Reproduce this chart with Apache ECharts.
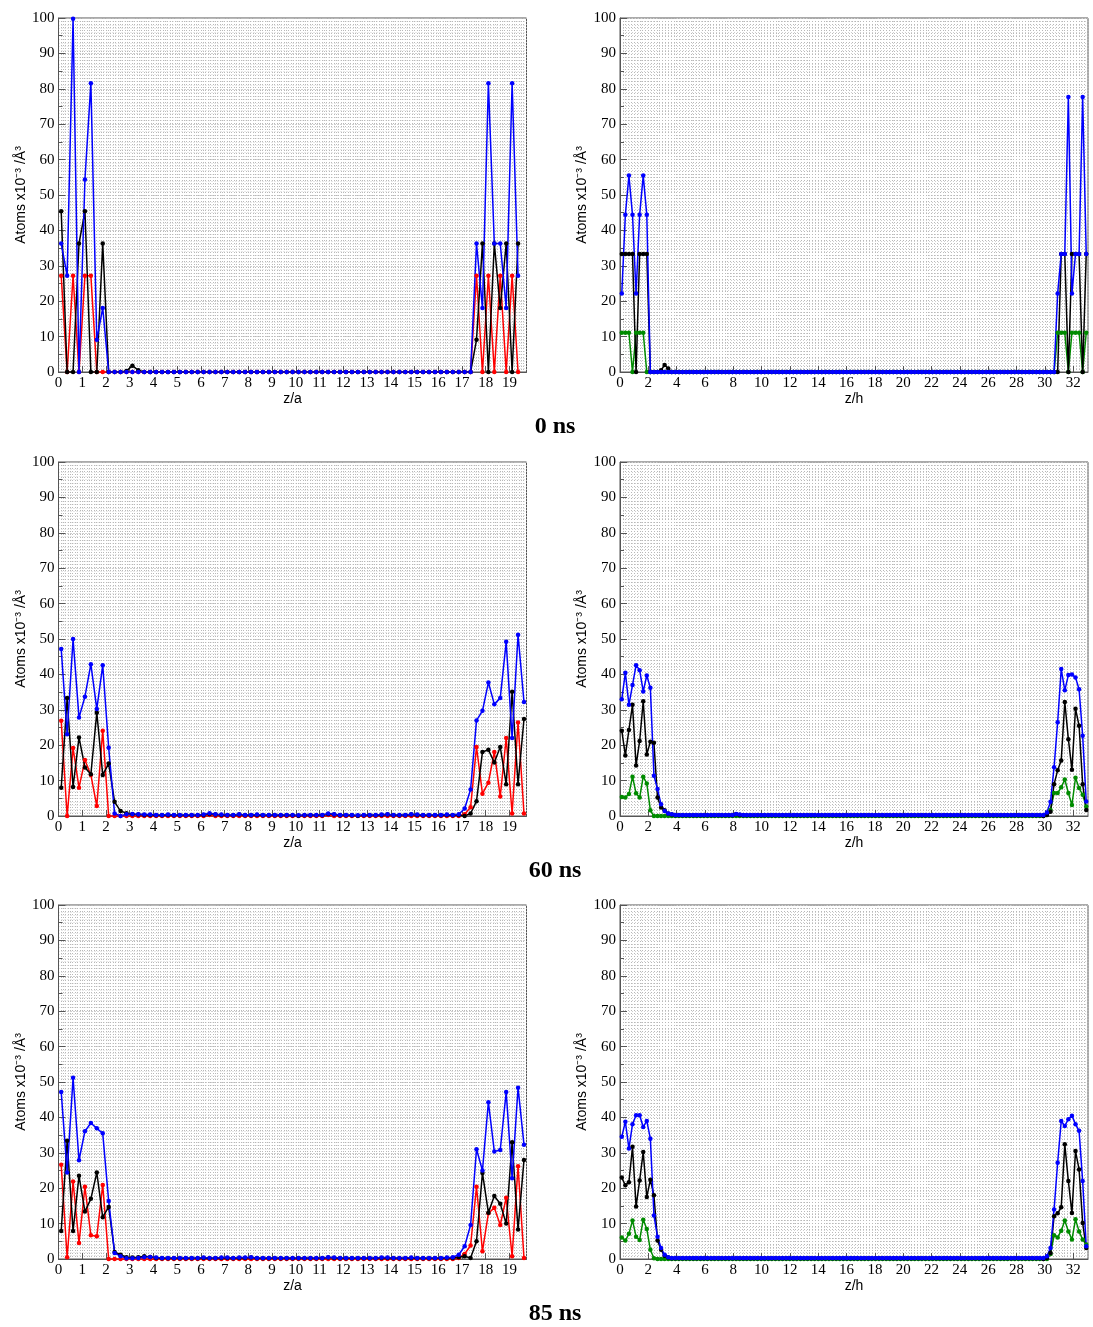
<!DOCTYPE html>
<html><head><meta charset="utf-8">
<script src="https://cdn.jsdelivr.net/npm/echarts@6/dist/echarts.min.js"></script>
<style>html,body{margin:0;padding:0;background:#fff}#c{width:1093px;height:1327px}</style>
</head><body><div id="c"></div><script>
// ---- bin grids (x positions of the profile bins) ----
const leftStart = 0.114, leftStep = 0.25;      // z/a bins
const rightStart = 0.126, rightStep = 0.2523;  // z/h bins
const leftMax = 19.72, rightMax = 33.05;
const panelTitles = ['0 ns', '60 ns', '85 ns'];
const leftXName = 'z/a', rightXName = 'z/h';
const yName = 'Atoms x10⁻³ /Å³';

// ---- 0 ns, left (z/a) ----
const t0L_blue = [36.3,27.2,99.8,0,54.4,81.6,9.1,18.1,0,
 0,0,0,0,0,0,0,0,0,0, 0,0,0,0,0,0,0,0,0,0, 0,0,0,0,0,0,0,0,0,0,
 0,0,0,0,0,0,0,0,0,0, 0,0,0,0,0,0,0,0,0,0, 0,0,0,0,0,0,0,0,0,0,
 0,36.3,18.1,81.6,36.3,36.3,18.1,81.6,27.2];
const t0L_black = [45.4,0,0,36.3,45.4,0,0,36.3,0,
 0,0,0.3,1.8,0.5,0,0,0,0,0, 0,0,0,0,0,0,0,0,0,0, 0,0,0,0,0,0,0,0,0,0,
 0,0,0,0,0,0,0,0,0,0, 0,0,0,0,0,0,0,0,0,0, 0,0,0,0,0,0,0,0,0,0,
 0,9.1,36.3,0,36.3,18.1,36.3,0,36.3];
const t0L_red = [27.2,0,27.2,0,27.2,27.2,0,0,0,
 0,0,0,0,0,0,0,0,0,0, 0,0,0,0,0,0,0,0,0,0, 0,0,0,0,0,0,0,0,0,0,
 0,0,0,0,0,0,0,0,0,0, 0,0,0,0,0,0,0,0,0,0, 0,0,0,0,0,0,0,0,0,0,
 0,27.2,0,27.2,0,27.2,0,27.2,0];

// ---- 60 ns, left ----
const t60L_blue = [47.2,23.1,50.0,27.8,33.7,42.9,30.2,42.6,19.3,0.7,0,
 0.5,0.6,0.5,0.4,0.4,0.3,0.3,0.4,0.3,0.3, 0.3,0.3,0.3,0.4,0.8,0.5,0.4,0.3,0.3,0.5,
 0.3,0.3,0.4,0.3,0.3,0.3,0.3,0.3,0.3,0.2, 0.3,0.3,0.3,0.3,0.7,0.5,0.3,0.3,0.3,0.2,
 0.3,0.3,0.3,0.4,0.5,0.3,0.3,0.3,0.5,0.4, 0.3,0.3,0.3,0.3,0.4,0.3,0.5,
 2.1,7.5,27.0,29.7,37.7,31.6,33.3,49.2,22.0,51.2,32.2];
const t60L_black = [8.0,33.3,8.2,22.2,13.7,11.8,29.2,11.6,14.8,4.0,1.4,
 0.8,0.5,0.4,0.3,0.3,0.2,0.2,0.3,0.2,0.2, 0.2,0.2,0.2,0.3,0.6,0.4,0.3,0.2,0.2,0.4,
 0.2,0.2,0.3,0.2,0.2,0.2,0.2,0.2,0.2,0.1, 0.2,0.2,0.2,0.2,0.6,0.4,0.2,0.2,0.2,0.1,
 0.2,0.2,0.2,0.3,0.4,0.2,0.2,0.2,0.4,0.3, 0.2,0.2,0.2,0.2,0.3,0.2,0.3,
 0,0.7,4.2,18.1,18.7,15.1,19.5,9.0,35.1,9.0,27.4];
const t60L_red = [26.9,0,19.2,8.0,15.8,11.6,2.8,24.1,0,0,0,
 0,0,0,0,0,0,0,0,0,0, 0,0,0,0,0.3,0,0,0,0,0,
 0,0,0,0,0,0,0,0,0,0, 0,0,0,0,0.3,0,0,0,0,0,
 0,0,0,0,0,0,0,0,0,0, 0,0,0,0,0,0,0,
 0.5,2.5,19.5,6.3,9.4,18.1,5.5,22.0,0.7,26.4,0.7];

// ---- 85 ns, left ----
const t85L_blue = [47.2,24.4,51.2,27.9,36.1,38.4,36.9,35.5,16.4,1.7,0.8,
 0.2,0.2,0.3,0.5,0.6,0.4,0.3,0.3,0.3,0.3, 0.3,0.3,0.3,0.4,0.3,0.3,0.4,0.4,0.3,0.4,
 0.4,0.5,0.3,0.3,0.3,0.3,0.3,0.3,0.3,0.3, 0.3,0.3,0.3,0.3,0.5,0.4,0.3,0.3,0.3,0.3,
 0.3,0.3,0.3,0.4,0.4,0.3,0.3,0.3,0.4,0.3, 0.3,0.3,0.3,0.3,0.4,0.5,1.2,
 3.6,9.6,31.0,25.0,44.3,30.4,30.8,47.2,22.8,48.4,32.3];
const t85L_black = [7.9,33.4,7.9,23.5,13.4,17.0,24.4,11.8,14.7,2.0,1.2,
 0.5,0.4,0.5,0.8,0.6,0.3,0.2,0.2,0.2,0.2, 0.2,0.2,0.2,0.3,0.2,0.2,0.3,0.3,0.2,0.3,
 0.3,0.4,0.2,0.2,0.2,0.2,0.2,0.2,0.2,0.2, 0.2,0.2,0.2,0.2,0.4,0.3,0.2,0.2,0.2,0.2,
 0.2,0.2,0.2,0.3,0.3,0.2,0.2,0.2,0.3,0.2, 0.2,0.2,0.2,0.2,0.3,0.3,0.5,
 0.8,0.3,5.0,24.3,13.1,17.8,15.6,10.0,33.0,8.3,28.0];
const t85L_red = [26.6,0.5,21.9,4.5,20.4,6.7,6.4,20.9,0,0,0,
 0,0,0,0,0,0,0,0,0,0, 0,0,0,0,0,0,0,0,0,0,
 0,0,0,0,0,0,0,0,0,0, 0,0,0,0,0,0,0,0,0,0,
 0,0,0,0,0,0,0,0,0,0, 0,0,0,0,0,0,0.3,
 1.4,3.8,20.4,2.2,12.9,14.5,9.6,17.3,0.8,26.2,0.3];

// ---- 0 ns, right (z/h) ----
const t0R_blue = [22.2,44.4,55.5,44.4,22.2,44.4,55.5,44.4,0,0,0,0,0,0,0,
 0,0,0,0,0,0,0,0,0,0, 0,0,0,0,0,0,0,0,0,0, 0,0,0,0,0,0,0,0,0,0, 0,0,0,0,0,0,0,0,0,0,
 0,0,0,0,0,0,0,0,0,0, 0,0,0,0,0,0,0,0,0,0, 0,0,0,0,0,0,0,0,0,0, 0,0,0,0,0,0,0,0,0,0,
 0,0,0,0,0,0,0,0,0,0, 0,0,0,0,0,0,0,0,0,0, 0,0,0,
 0,0,0,0,22.2,33.3,33.3,77.7,22.2,33.3,33.3,77.7,33.3];
const t0R_black = [33.3,33.3,33.3,33.3,0,33.3,33.3,33.3,0,0,0,0.5,2.0,1.0,0,
 0,0,0,0,0,0,0,0,0,0, 0,0,0,0,0,0,0,0,0,0, 0,0,0,0,0,0,0,0,0,0, 0,0,0,0,0,0,0,0,0,0,
 0,0,0,0,0,0,0,0,0,0, 0,0,0,0,0,0,0,0,0,0, 0,0,0,0,0,0,0,0,0,0, 0,0,0,0,0,0,0,0,0,0,
 0,0,0,0,0,0,0,0,0,0, 0,0,0,0,0,0,0,0,0,0, 0,0,0,
 0,0,0,0,0,33.3,33.3,0,33.3,33.3,33.3,0,33.3];
const t0R_green = [11.1,11.1,11.1,0,11.1,11.1,11.1,0,0,0,0,0,0,0,0,
 0,0,0,0,0,0,0,0,0,0, 0,0,0,0,0,0,0,0,0,0, 0,0,0,0,0,0,0,0,0,0, 0,0,0,0,0,0,0,0,0,0,
 0,0,0,0,0,0,0,0,0,0, 0,0,0,0,0,0,0,0,0,0, 0,0,0,0,0,0,0,0,0,0, 0,0,0,0,0,0,0,0,0,0,
 0,0,0,0,0,0,0,0,0,0, 0,0,0,0,0,0,0,0,0,0, 0,0,0,
 0,0,0,0,11.1,11.1,11.1,0,11.1,11.1,11.1,0,11.1];

// ---- 60 ns, right ----
const t60R_blue = [33.0,40.5,31.4,37.0,42.6,41.2,35.2,39.7,36.2,11.4,7.6,3.3,1.4,0.7,0.5,
 0.3,0.3,0.3,0.3,0.3,0.3,0.3,0.3,0.3,0.3, 0.3,0.3,0.3,0.3,0.3,0.3,0.3,0.6,0.4,0.3, 0.3,0.3,0.3,0.3,0.3,0.3,0.3,0.3,0.3,0.3, 0.3,0.3,0.3,0.3,0.3,0.3,0.3,0.3,0.3,0.3,
 0.3,0.3,0.3,0.3,0.3,0.3,0.3,0.3,0.3,0.3, 0.3,0.3,0.3,0.3,0.3,0.3,0.3,0.3,0.3,0.3, 0.3,0.3,0.3,0.3,0.3,0.3,0.3,0.3,0.3,0.3, 0.3,0.3,0.3,0.3,0.3,0.3,0.3,0.3,0.3,0.3,
 0.3,0.3,0.3,0.3,0.3,0.3,0.3,0.3,0.3,0.3, 0.3,0.3,0.3,0.3,0.3,0.3,0.3,0.3,0.3,0.3, 0.3,0.3,0.3,
 0.3,1.0,4.0,13.8,26.5,41.5,35.5,39.8,40.0,39.1,35.8,22.7,4.1];
const t60R_black = [24.1,17.1,24.3,31.4,14.3,21.2,32.4,17.4,21.0,20.7,5.2,2.4,1.6,0.7,0.4,
 0.2,0.2,0.2,0.2,0.2,0.2,0.2,0.2,0.2,0.2, 0.2,0.2,0.2,0.2,0.2,0.2,0.2,0.5,0.3,0.2, 0.2,0.2,0.2,0.2,0.2,0.2,0.2,0.2,0.2,0.2, 0.2,0.2,0.2,0.2,0.2,0.2,0.2,0.2,0.2,0.2,
 0.2,0.2,0.2,0.2,0.2,0.2,0.2,0.2,0.2,0.2, 0.2,0.2,0.2,0.2,0.2,0.2,0.2,0.2,0.2,0.2, 0.2,0.2,0.2,0.2,0.2,0.2,0.2,0.2,0.2,0.2, 0.2,0.2,0.2,0.2,0.2,0.2,0.2,0.2,0.2,0.2,
 0.2,0.2,0.2,0.2,0.2,0.2,0.2,0.2,0.2,0.2, 0.2,0.2,0.2,0.2,0.2,0.2,0.2,0.2,0.2,0.2, 0.2,0.2,0.2,
 0,0.3,1.2,9.0,12.9,15.7,32.2,21.7,13.1,30.3,25.5,9.0,1.7];
const t60R_green = [5.4,5.2,6.2,11.1,6.4,5.2,11.1,9.2,1.6,0,0,0,0,0,0,
 0,0,0,0,0,0,0,0,0,0, 0,0,0,0,0,0,0,0,0,0, 0,0,0,0,0,0,0,0,0,0, 0,0,0,0,0,0,0,0,0,0,
 0,0,0,0,0,0,0,0,0,0, 0,0,0,0,0,0,0,0,0,0, 0,0,0,0,0,0,0,0,0,0, 0,0,0,0,0,0,0,0,0,0,
 0,0,0,0,0,0,0,0,0,0, 0,0,0,0,0,0,0,0,0,0, 0,0,0,
 0,0.3,1.7,6.5,6.5,8.1,10.3,6.5,3.1,10.8,7.9,6.0,2.7];

// ---- 85 ns, right ----
const t85R_blue = [34.5,38.8,31.2,38.1,40.6,40.6,37.3,39.0,34.0,12.3,6.3,3.1,1.2,0.5,0.3,
 0.3,0.3,0.3,0.3,0.3,0.3,0.3,0.3,0.3,0.3, 0.3,0.3,0.3,0.3,0.3,0.3,0.3,0.3,0.3,0.3, 0.3,0.3,0.3,0.3,0.3,0.3,0.3,0.3,0.3,0.3, 0.3,0.3,0.3,0.3,0.3,0.3,0.3,0.3,0.3,0.3,
 0.3,0.3,0.3,0.3,0.3,0.3,0.3,0.3,0.3,0.3, 0.3,0.3,0.3,0.3,0.3,0.3,0.3,0.3,0.3,0.3, 0.3,0.3,0.3,0.3,0.3,0.3,0.3,0.3,0.3,0.3, 0.3,0.3,0.3,0.3,0.3,0.3,0.3,0.3,0.3,0.3,
 0.3,0.3,0.3,0.3,0.3,0.3,0.3,0.3,0.3,0.3, 0.3,0.3,0.3,0.3,0.3,0.3,0.3,0.3,0.3,0.3, 0.3,0.3,0.3,
 0.3,0.8,3.1,14.0,27.2,39.0,37.6,39.5,40.5,38.1,36.2,22.0,3.6];
const t85R_black = [23.0,20.8,21.7,31.7,14.8,22.2,30.2,17.5,22.4,18.0,5.2,2.6,0.9,0.4,0.2,
 0.2,0.2,0.2,0.2,0.2,0.2,0.2,0.2,0.2,0.2, 0.2,0.2,0.2,0.2,0.2,0.2,0.2,0.2,0.2,0.2, 0.2,0.2,0.2,0.2,0.2,0.2,0.2,0.2,0.2,0.2, 0.2,0.2,0.2,0.2,0.2,0.2,0.2,0.2,0.2,0.2,
 0.2,0.2,0.2,0.2,0.2,0.2,0.2,0.2,0.2,0.2, 0.2,0.2,0.2,0.2,0.2,0.2,0.2,0.2,0.2,0.2, 0.2,0.2,0.2,0.2,0.2,0.2,0.2,0.2,0.2,0.2, 0.2,0.2,0.2,0.2,0.2,0.2,0.2,0.2,0.2,0.2,
 0.2,0.2,0.2,0.2,0.2,0.2,0.2,0.2,0.2,0.2, 0.2,0.2,0.2,0.2,0.2,0.2,0.2,0.2,0.2,0.2, 0.2,0.2,0.2,
 0,0.3,1.7,12.1,12.9,14.6,32.4,22.0,13.0,30.5,25.3,10.2,3.1];
const t85R_green = [6.1,5.2,7.1,10.9,6.3,5.4,11.1,8.5,2.6,0.2,0,0,0,0,0,
 0,0,0,0,0,0,0,0,0,0, 0,0,0,0,0,0,0,0,0,0, 0,0,0,0,0,0,0,0,0,0, 0,0,0,0,0,0,0,0,0,0,
 0,0,0,0,0,0,0,0,0,0, 0,0,0,0,0,0,0,0,0,0, 0,0,0,0,0,0,0,0,0,0, 0,0,0,0,0,0,0,0,0,0,
 0,0,0,0,0,0,0,0,0,0, 0,0,0,0,0,0,0,0,0,0, 0,0,0,
 0,0,1.4,6.7,6.1,8.0,10.9,7.8,5.5,11.2,7.8,5.5,4.1];

// ---------------- layout / styling ----------------
const BLUE = '#0000ff', BLACK = '#000000', RED = '#ff0000', GREEN = '#008b00';
const rowTops = [18, 462, 905];
const plotH = 354;
const leftL = 58.5, rightL = 620, plotW = 468;
const titleY = [427, 871, 1314];

const panels = [
  {row:0, side:'L', sets:[[t0L_red,RED],[t0L_black,BLACK],[t0L_blue,BLUE]]},
  {row:0, side:'R', sets:[[t0R_green,GREEN],[t0R_black,BLACK],[t0R_blue,BLUE]]},
  {row:1, side:'L', sets:[[t60L_red,RED],[t60L_black,BLACK],[t60L_blue,BLUE]]},
  {row:1, side:'R', sets:[[t60R_green,GREEN],[t60R_black,BLACK],[t60R_blue,BLUE]]},
  {row:2, side:'L', sets:[[t85L_red,RED],[t85L_black,BLACK],[t85L_blue,BLUE]]},
  {row:2, side:'R', sets:[[t85R_green,GREEN],[t85R_black,BLACK],[t85R_blue,BLUE]]}
];

function toPts(vals, start, step){ return vals.map((v,i)=>[start + step*i, v]); }

const AX = '#555';
const dotMajor = {color:'#9a9a9a', width:1, type:[1,2]};
const dotMinorV = {color:'#b8b8b8', width:1, type:[1,2]};
const dotMinorH = {color:'#d0d0d0', width:1, type:[1,2]};
const serif = 'Liberation Serif', sans = 'Liberation Sans';

const grid = [], xAxis = [], yAxis = [], series = [];
panels.forEach((p, k) => {
  const isL = p.side === 'L';
  grid.push({left: isL ? leftL : rightL, top: rowTops[p.row], width: plotW, height: plotH,
    show:true, borderColor: AX, borderWidth: 1, containLabel:false});
  xAxis.push({gridIndex:k, type:'value', min:0, max: isL ? leftMax : rightMax, interval: isL ? 1 : 2,
    name: isL ? leftXName : rightXName, nameLocation:'middle', nameGap:18,
    nameTextStyle:{fontFamily:sans, fontSize:14, color:'#000'},
    axisLine:{show:true, onZero:false, lineStyle:{color:AX, width:1}},
    axisTick:{show:true, inside:true, length:6, lineStyle:{color:AX}},
    axisLabel:{fontFamily:serif, fontSize:15, color:'#000', margin:4, showMaxLabel:false},
    splitLine:{show:true, lineStyle:dotMajor}
  });
  yAxis.push({gridIndex:k, type:'value', min:0, max:100, interval:10,
    name: yName, nameLocation:'middle', nameGap:30, nameRotate:90,
    nameTextStyle:{fontFamily:sans, fontSize:14, color:'#000'},
    axisLine:{show:true, lineStyle:{color:AX, width:1}},
    axisTick:{show:true, inside:true, length:7, lineStyle:{color:AX}},
    axisLabel:{fontFamily:serif, fontSize:15, color:'#000', margin:4},
    splitLine:{show:true, lineStyle:dotMajor},
    minorTick:{show:true, splitNumber:2, length:4, lineStyle:{color:AX}},
    minorSplitLine:{show:false}
  });
  p.sets.forEach(([vals, color]) => {
    series.push({type:'line', xAxisIndex:k, yAxisIndex:k,
      data: toPts(vals, isL ? leftStart : rightStart, isL ? leftStep : rightStep),
      symbol:'circle', symbolSize:4.5, showSymbol:true,
      lineStyle:{color, width:1.5}, itemStyle:{color}, silent:true, z:3});
  });
});

// extra hidden axes for the dense dotted grid (x: 0.1 / 0.2 spacing, y: 1 unit)
panels.forEach((p, k) => {
  const isL = p.side === 'L';
  xAxis.push({gridIndex:k, type:'value', min:0, max: isL ? leftMax : rightMax, interval: isL ? 0.1 : 0.2,
    position:'top', axisLine:{show:false}, axisTick:{show:false}, axisLabel:{show:false},
    splitLine:{show:true, lineStyle:dotMinorV}, z:0});
  yAxis.push({gridIndex:k, type:'value', min:0, max:100, interval:1,
    position:'right', axisLine:{show:false}, axisTick:{show:false}, axisLabel:{show:false},
    splitLine:{show:true, lineStyle:dotMinorH}, z:0});
});

const chart = echarts.init(document.getElementById('c'), null, {renderer:'canvas'});
chart.setOption({animation:false, backgroundColor:'#fff', grid, xAxis, yAxis, series,
  graphic: panelTitles.map((t, r) => ({type:'text', x:555, y:titleY[r],
    style:{text:t, font:'bold 24px "Liberation Serif"', fill:'#000', align:'center', verticalAlign:'middle'}}))});
</script></body></html>
